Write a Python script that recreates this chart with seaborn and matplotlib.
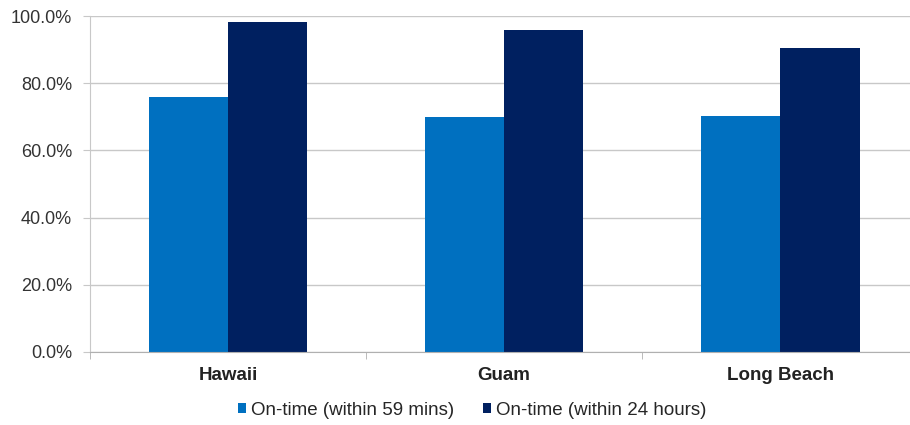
import pandas as pd
import matplotlib.pyplot as plt
import seaborn as sns
from matplotlib.ticker import PercentFormatter, FixedLocator

locations = ["Hawaii", "Guam", "Long Beach"]
series = ["On-time (within 59 mins)", "On-time (within 24 hours)"]
within_59_mins = [75.9, 69.9, 70.2]
within_24_hours = [98.2, 95.8, 90.5]

df = pd.DataFrame({
    "location": locations * 2,
    "series": [series[0]] * 3 + [series[1]] * 3,
    "value": within_59_mins + within_24_hours,
})

sns.set_style("white")
plt.rcParams["font.family"] = ["Liberation Sans", "DejaVu Sans"]

fig = plt.figure(figsize=(9.1, 4.25), dpi=100)
ax = fig.add_axes([0.099, 0.172, 0.91, 0.79])

sns.barplot(data=df, x="location", y="value", hue="series",
            palette=["#0070C0", "#002060"], width=0.575, gap=0,
            saturation=1, linewidth=0, ax=ax, legend=True)

ax.set_ylim(0, 100)
ax.set_xlim(-0.5, 2.5)
ax.set_yticks([0, 20, 40, 60, 80, 100])
ax.yaxis.set_major_formatter(PercentFormatter(decimals=1))
ax.grid(axis="y", color="#c8c8c8", linewidth=1)
ax.set_axisbelow(True)
for s in ["top", "right"]:
    ax.spines[s].set_visible(False)
ax.spines["left"].set_color("#c8c8c8")
ax.spines["bottom"].set_color("#b0b0b0")

ax.xaxis.set_minor_locator(FixedLocator([-0.5, 0.5, 1.5, 2.5]))
ax.tick_params(axis="x", which="major", length=0, pad=11)
ax.tick_params(axis="x", which="minor", length=5, color="#b0b0b0", direction="out", bottom=True)
ax.tick_params(axis="y", length=5, color="#c8c8c8", left=True, direction="out", pad=8)
for lab in ax.get_xticklabels():
    lab.set_fontweight("bold")
    lab.set_fontsize(13.5)
    lab.set_color("#222222")
for lab in ax.get_yticklabels():
    lab.set_fontsize(13)
    lab.set_color("#333333")

ax.set_xlabel("")
ax.set_ylabel("")

handles, labels = ax.get_legend_handles_labels()
ax.get_legend().remove()
fig.legend(handles, labels, loc="center", bbox_to_anchor=(0.519, 0.035), ncol=2,
           frameon=False, handlelength=0.42, handleheight=0.42,
           handletextpad=0.3, columnspacing=1.5, prop={"size": 13.5})

fig.savefig("out.png", dpi=100)
